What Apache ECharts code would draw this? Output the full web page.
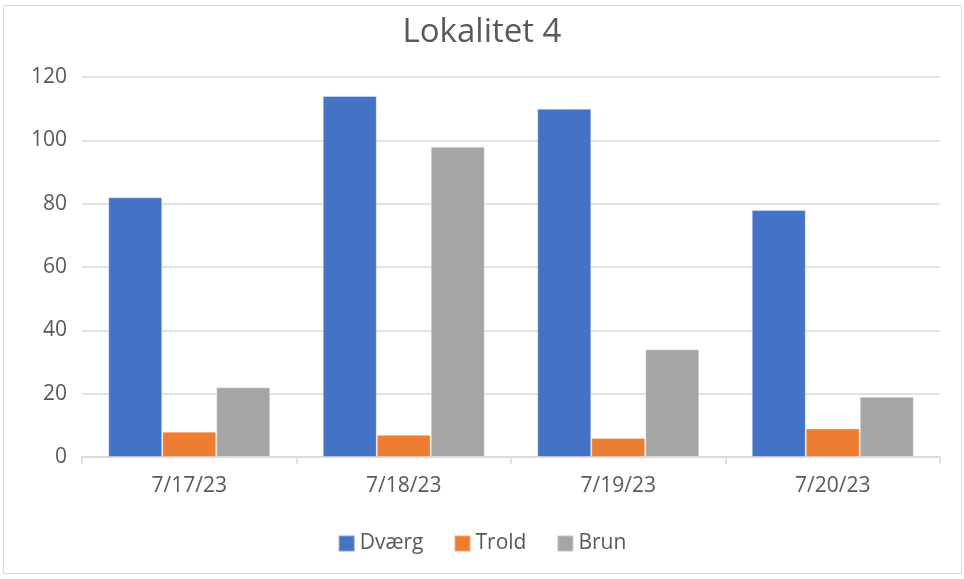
<!DOCTYPE html>
<html>
<head>
<meta charset="utf-8">
<script src="https://cdn.jsdelivr.net/npm/echarts@6/dist/echarts.min.js"></script>
<style>
html, body { margin: 0; padding: 0; background: #fff; }
#main { width: 964px; height: 579px; }
</style>
</head>
<body>
<div id="main"></div>
<script>
const categories = ['7/17/23', '7/18/23', '7/19/23', '7/20/23'];
const dvaerg = [82, 114, 110, 78];
const trold = [8, 7, 6, 9];
const brun = [22, 98, 34, 19];

const myChart = echarts.init(document.getElementById('main'));
const font = '"Open Sans", "Noto Sans", sans-serif';

function barSeries(name, data, color) {
    return {
        name: name,
        type: 'bar',
        data: data,
        barWidth: 54,
        barGap: '0%',
        itemStyle: { color: color, borderColor: 'rgba(255,255,255,0.35)', borderWidth: 1 }
    };
}

const option = {
    animation: false,
    textStyle: { fontFamily: font },
    graphic: [{
        type: 'rect',
        shape: { x: 3.5, y: 5.5, width: 958, height: 568 },
        style: { fill: 'none', stroke: '#d9d9d9', lineWidth: 1 }
    }],
    title: {
        text: 'Lokalitet 4',
        left: 'center',
        top: 11,
        textStyle: { fontFamily: font, fontSize: 33, fontWeight: 'normal', color: '#595959' }
    },
    legend: {
        bottom: 20,
        left: 'center',
        itemWidth: 16,
        itemHeight: 16,
        itemGap: 30,
        icon: 'rect',
        textStyle: { fontFamily: font, fontSize: 21, color: '#595959' },
        data: ['Dværg', 'Trold', 'Brun']
    },
    grid: { left: 82, right: 24, top: 77, bottom: 122 },
    xAxis: {
        type: 'category',
        data: categories,
        axisLine: { lineStyle: { color: '#d9d9d9', width: 1.5 } },
        axisTick: { show: true, length: 7, lineStyle: { color: '#d9d9d9', width: 1.5 } },
        axisLabel: { fontFamily: font, fontSize: 21, color: '#595959', margin: 19 }
    },
    yAxis: {
        type: 'value',
        min: 0,
        max: 120,
        interval: 20,
        axisLine: { show: false },
        axisTick: { show: false },
        splitLine: { lineStyle: { color: '#d9d9d9', width: 1.5 } },
        axisLabel: { fontFamily: font, fontSize: 21, color: '#595959', margin: 15 }
    },
    series: [
        barSeries('Dværg', dvaerg, '#4472C4'),
        barSeries('Trold', trold, '#ED7D31'),
        barSeries('Brun', brun, '#A5A5A5')
    ]
};

myChart.setOption(option);
</script>
</body>
</html>
